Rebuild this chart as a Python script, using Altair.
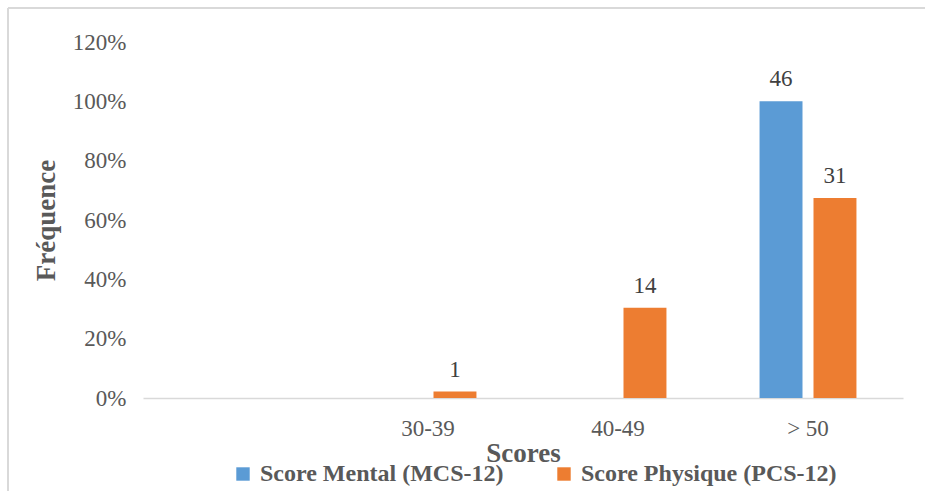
import altair as alt
import pandas as pd

categories = [" ", "30-39", "40-49", "> 50"]
series = ["Score Mental (MCS-12)", "Score Physique (PCS-12)"]
mcs_counts = [0, 0, 0, 46]
pcs_counts = [0, 1, 14, 31]

rows = []
for s, counts in zip(series, [mcs_counts, pcs_counts]):
    total = sum(counts)
    for c, n in zip(categories, counts):
        rows.append({"cat": c, "serie": s, "n": n, "pct": n / total,
                     "label": str(n) if n > 0 else ""})
df = pd.DataFrame(rows)

FONT = "Liberation Serif"
GREY = "#595959"

x_enc = alt.X("cat:N", sort=categories, title="Scores",
              scale=alt.Scale(paddingInner=0.49, paddingOuter=0.245),
              axis=alt.Axis(labelAngle=0, labelPadding=19, ticks=False,
                            domainColor="#d9d9d9", domainWidth=1.5, labelFont=FONT,
                            labelFontSize=23, labelColor=GREY, titleFont=FONT,
                            titleFontSize=27, titleFontWeight="bold", titleColor=GREY,
                            titleY=55, titleBaseline="middle"))
off = alt.XOffset("serie:N", sort=series, scale=alt.Scale(paddingInner=0.204, paddingOuter=0))
y_enc = alt.Y("pct:Q", title="Fréquence",
              scale=alt.Scale(domain=[0, 1.2], nice=False),
              axis=alt.Axis(values=[0, 0.2, 0.4, 0.6, 0.8, 1.0, 1.2], format="%", grid=False,
                            ticks=False, domain=False, labelPadding=17, labelFont=FONT,
                            labelFontSize=23, labelColor=GREY, titleFont=FONT,
                            titleFontSize=27, titleFontWeight="bold", titleColor=GREY,
                            titleX=-97, titleBaseline="middle"))
color = alt.Color("serie:N", sort=series,
                  scale=alt.Scale(domain=series, range=["#5B9BD5", "#ED7D31"]),
                  legend=alt.Legend(title=None, orient="none", direction="horizontal",
                                    legendX=88, legendY=420, symbolType="square",
                                    symbolSize=180, symbolStrokeWidth=0, labelFont=FONT,
                                    labelFontSize=24, labelFontWeight="bold",
                                    labelColor=GREY, columnPadding=48, labelOffset=5,
                                    labelLimit=0))

bars = alt.Chart(df).mark_bar().encode(x=x_enc, xOffset=off, y=y_enc, color=color)
text = alt.Chart(df).mark_text(baseline="alphabetic", dy=-15, font=FONT, fontSize=23,
                               color="#404040").encode(
    x=alt.X("cat:N", sort=categories), xOffset=off, y="pct:Q", text="label:N")

frame_top = alt.Chart(df).mark_rule(color="#d9d9d9", strokeWidth=2).encode(
    x=alt.value(-135), x2=alt.value(790), y=alt.value(-34))
frame_left = alt.Chart(df).mark_rule(color="#d9d9d9", strokeWidth=2).encode(
    x=alt.value(-135), y=alt.value(-34), y2=alt.value(460))

chart = alt.layer(frame_top, frame_left, bars, text).properties(
    width=760, height=356,
    background="white",
    autosize=alt.AutoSizeParams(type="none"),
    padding={"left": 143, "top": 42, "right": 22, "bottom": 93},
).configure_view(strokeWidth=0, stroke=None)

chart.save("out.html", embed_options={"renderer": "svg", "actions": False})
